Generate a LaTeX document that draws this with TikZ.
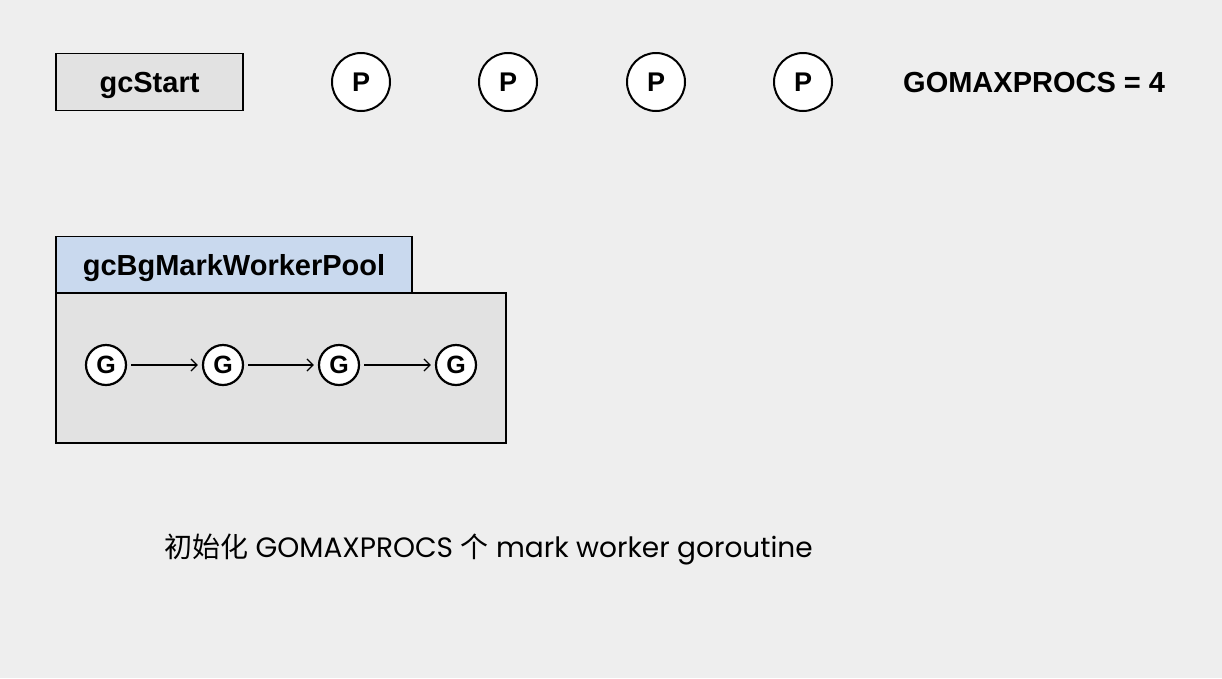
\documentclass[tikz,border=0pt]{standalone}
\usepackage{fontspec}
\setmainfont{Liberation Sans}
\newfontfamily\cjk{Noto Sans CJK SC}
\newfontfamily\geo{Poppins}
\usetikzlibrary{arrows.meta}
\definecolor{bg}{HTML}{EEEEEE}
\definecolor{boxgray}{HTML}{E2E2E2}
\definecolor{tabblue}{HTML}{C9D9EE}
\begin{document}
\begin{tikzpicture}[x=1pt,y=-1pt,
  rectbox/.style={draw, line width=1.6pt, fill=boxgray, inner sep=0pt},
  pcirc/.style={circle, draw, line width=2pt, fill=white, minimum size=58pt, inner sep=0pt, text height=19.3pt, text depth=0pt, font=\fontsize{27}{30}\selectfont\bfseries},
  gcirc/.style={circle, draw, line width=2.2pt, fill=white, minimum size=40pt, inner sep=0pt, text height=17.9pt, text depth=0pt, font=\fontsize{25}{28}\selectfont\bfseries},
  lbl/.style={text height=20.8pt, text depth=0pt, font=\fontsize{29}{32}\selectfont\bfseries},
  arr/.style={-{Straight Barb[length=6pt,width=12pt,line width=1.3pt]}, line width=1.3pt, shorten >=4pt, shorten <=4pt}
]
\fill[bg] (0,0) rectangle (1222,678);
\useasboundingbox (0,0) rectangle (1222,678);

\node[rectbox, minimum width=187pt, minimum height=57pt, lbl] (gcstart) at (149.5,82) {gcStart};

\node[pcirc] (p1) at (361,82) {P};
\node[pcirc] (p2) at (508,82) {P};
\node[pcirc] (p3) at (656,82) {P};
\node[pcirc] (p4) at (803,82) {P};

\node[lbl, anchor=west, inner sep=0pt] (gmp) at (903,82) {GOMAXPROCS = 4};

\node[rectbox, fill=tabblue, minimum width=356pt, minimum height=57pt, lbl] (tab) at (234,265) {gcBgMarkWorkerPool};
\node[rectbox, minimum width=450pt, minimum height=150pt] (pool) at (281,368) {};

\node[gcirc] (g1) at (106,365) {G};
\node[gcirc] (g2) at (223,365) {G};
\node[gcirc] (g3) at (339,365) {G};
\node[gcirc] (g4) at (456,365) {G};

\draw[arr] (g1) -- (g2);
\draw[arr] (g2) -- (g3);
\draw[arr] (g3) -- (g4);

\node[anchor=west, inner sep=0pt, font=\geo\fontsize{28}{32}\selectfont] (caption) at (164,549) {{\cjk 初始化} GOMAXPROCS {\cjk 个} mark worker goroutine};
\end{tikzpicture}
\end{document}
